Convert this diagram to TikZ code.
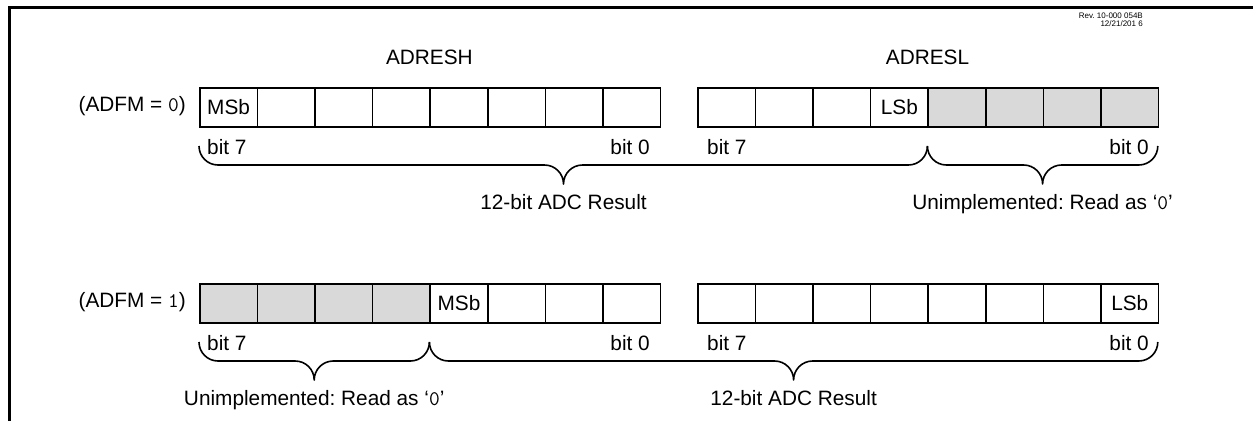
\documentclass[tikz,border=0pt]{standalone}
\usepackage{fontspec}
\setmainfont{Liberation Sans}
\definecolor{cellgrey}{RGB}{217,217,217}
\newcommand{\monof}{\ttfamily}
\newcommand{\downbrace}[5]{%
  \draw[brc] (#1,#4) .. controls (#1,{#4+0.552*#5}) and ({#1+0.448*#5},{#4+#5}) .. ({#1+#5},{#4+#5})
    -- ({#2-#5},{#4+#5}) .. controls ({#2-0.448*#5},{#4+#5}) and (#2,{#4+1.448*#5}) .. (#2,{#4+2*#5})
    .. controls (#2,{#4+1.448*#5}) and ({#2+0.448*#5},{#4+#5}) .. ({#2+#5},{#4+#5})
    -- ({#3-#5},{#4+#5}) .. controls ({#3-0.448*#5},{#4+#5}) and (#3,{#4+0.552*#5}) .. (#3,#4);}
\frenchspacing
\begin{document}
\begin{tikzpicture}[x=1pt,y=-1pt,
  cell/.style={draw, line width=1.6pt, minimum width=57.6pt, minimum height=39pt, inner sep=0pt, anchor=north west, font=\fontsize{20.8}{24}\selectfont},
  txt/.style={inner sep=0pt, font=\fontsize{20.8}{24}\selectfont},
  rev/.style={inner sep=0pt, anchor=base east, font=\fontsize{8}{9}\selectfont},
  brc/.style={line width=1.6pt, line join=round}]
\useasboundingbox (0,0) rectangle (1253,421);
% frame
\coordinate (fb) at (9,421);
\coordinate (fc) at (9,7);
\coordinate (fr) at (1253,7);
\draw[line width=3pt] (fb) -- (fc) -- (fr);
% revision
\node[rev] (rev1) at (1143,18) {Rev. 10-000 054B};
\node[rev] (rev2) at (1143,26) {12/21/201 6};
% register names
\node[txt, anchor=base] (nh) at (429.4,64) {ADRESH};
\node[txt, anchor=base] (nl) at (927.5,64) {ADRESL};
% top row (ADFM = 0)
\node[txt, anchor=base east] (lab0) at (186,111) {(ADFM = {\monof 0})};
\foreach \i/\t/\f in {0/MSb/white,1//white,2//white,3//white,4//white,5//white,6//white,7//white}
  \node[cell, fill=\f] (th\i) at ({199+57.6*\i},87) {\t};
\foreach \i/\t/\f in {0//white,1//white,2//white,3/LSb/white,4//cellgrey,5//cellgrey,6//cellgrey,7//cellgrey}
  \node[cell, fill=\f] (tl\i) at ({697+57.6*\i},87) {\t};
\node[txt, anchor=base west] (tb1) at (207,154) {bit 7};
\node[txt, anchor=base east] (tb2) at (650,154) {bit 0};
\node[txt, anchor=base west] (tb3) at (707,154) {bit 7};
\node[txt, anchor=base east] (tb4) at (1149,154) {bit 0};
\downbrace{199}{563.5}{927.4}{146}{19}
\downbrace{927.4}{1042.6}{1157.8}{146}{19}
\node[txt, anchor=base] (tr1) at (563.5,209) {12-bit ADC Result};
\node[txt, anchor=base] (tr2) at (1042.6,209) {Unimplemented: Read as ‘{\monof 0}’};
% bottom row (ADFM = 1)
\node[txt, anchor=base east] (lab1) at (186,307) {(ADFM = {\monof 1})};
\foreach \i/\t/\f in {0//cellgrey,1//cellgrey,2//cellgrey,3//cellgrey,4/MSb/white,5//white,6//white,7//white}
  \node[cell, fill=\f] (bh\i) at ({199+57.6*\i},283) {\t};
\foreach \i/\t/\f in {0//white,1//white,2//white,3//white,4//white,5//white,6//white,7/LSb/white}
  \node[cell, fill=\f] (bl\i) at ({697+57.6*\i},283) {\t};
\node[txt, anchor=base west] (bb1) at (207,350) {bit 7};
\node[txt, anchor=base east] (bb2) at (650,350) {bit 0};
\node[txt, anchor=base west] (bb3) at (707,350) {bit 7};
\node[txt, anchor=base east] (bb4) at (1149,350) {bit 0};
\downbrace{199}{314.2}{429.4}{342}{19}
\downbrace{429.4}{793.6}{1157.8}{342}{19}
\node[txt, anchor=base] (br1) at (314.2,405) {Unimplemented: Read as ‘{\monof 0}’};
\node[txt, anchor=base] (br2) at (793.6,405) {12-bit ADC Result};
\end{tikzpicture}
\end{document}
